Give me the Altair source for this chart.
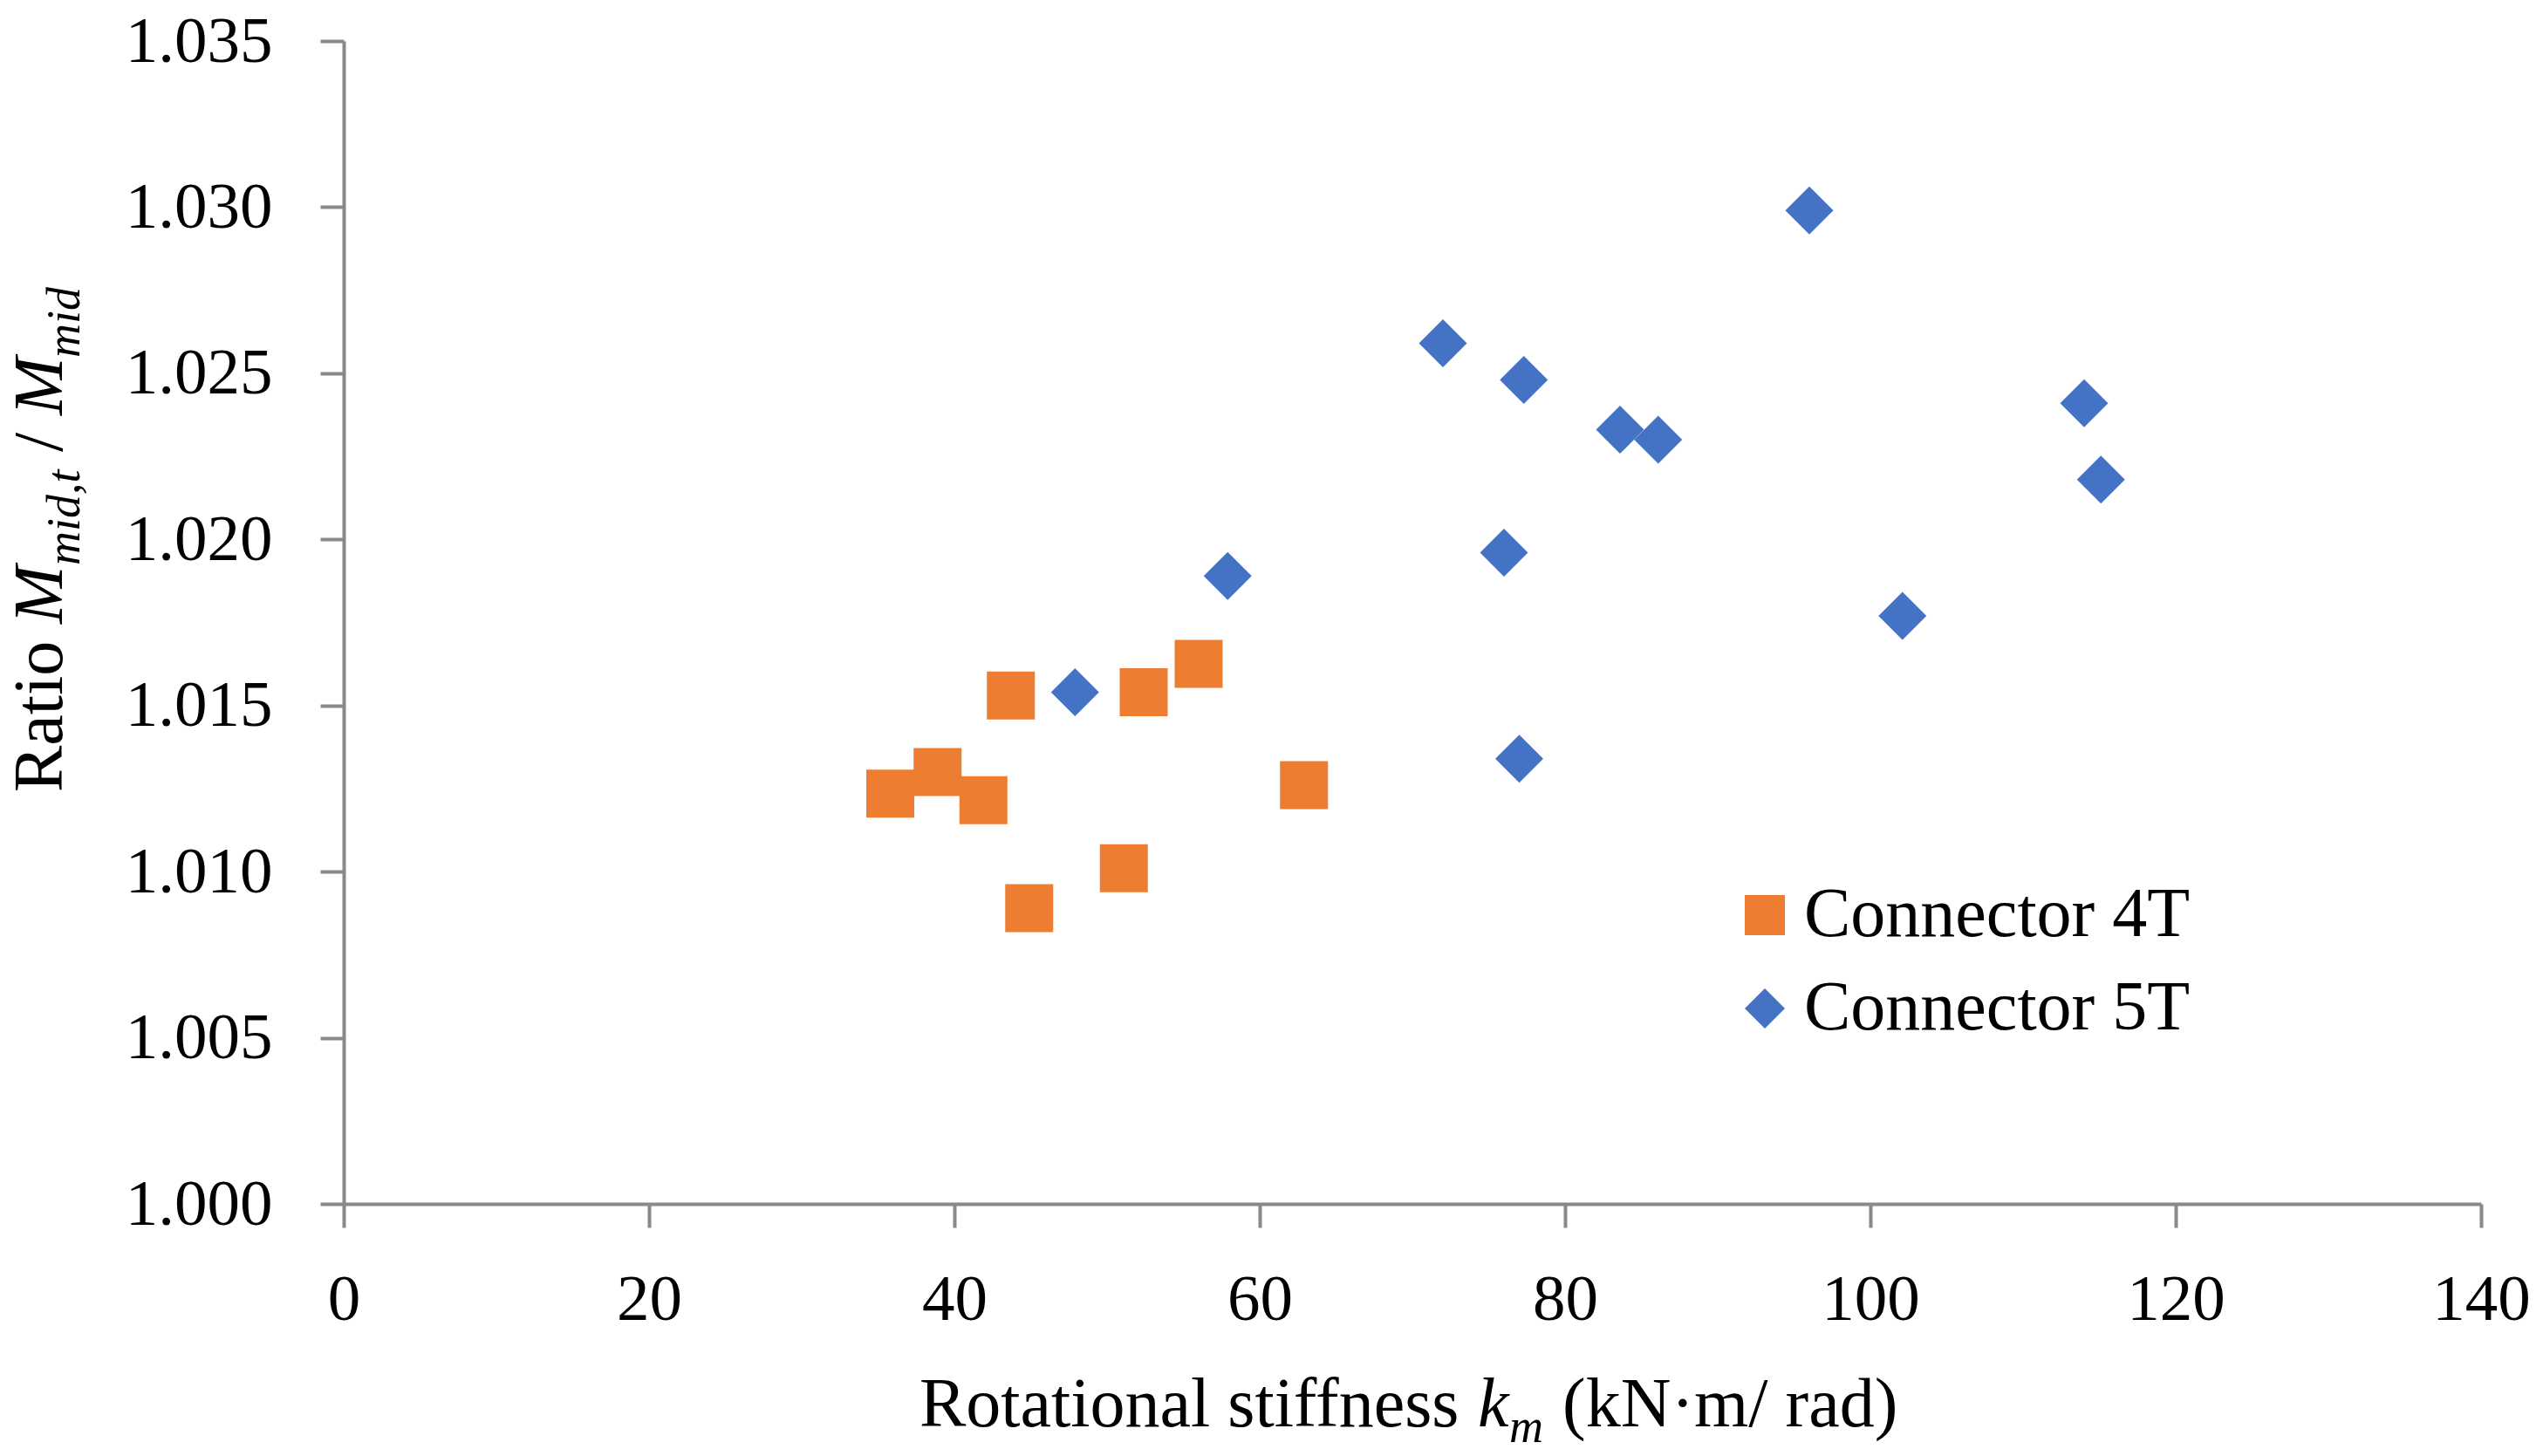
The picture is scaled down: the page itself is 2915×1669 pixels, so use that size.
import altair as alt
import pandas as pd

# ---- data ----
k4t = [35.8, 38.9, 41.9, 43.7, 44.9, 51.1, 52.4, 56.0, 62.9]
r4t = [1.01235, 1.0130, 1.01215, 1.0153, 1.0089, 1.0101, 1.0154, 1.01625, 1.0126]

k5t = [47.9, 57.9, 72.0, 76.0, 77.3, 77.0, 83.6, 86.1, 96.0, 102.1, 114.0, 115.1]
r5t = [1.0154, 1.0189, 1.0259, 1.0196, 1.0248, 1.0134, 1.0233, 1.0230, 1.0299, 1.0177, 1.0241, 1.0218]

series_names = ["Connector 4T", "Connector 5T"]
series_colors = ["#ED7D31", "#4472C4"]
series_shapes = ["square", "diamond"]

x_ticks = [0, 20, 40, 60, 80, 100, 120, 140]
y_ticks = [1.000, 1.005, 1.010, 1.015, 1.020, 1.025, 1.030, 1.035]

df = pd.DataFrame({
    "k": k4t + k5t,
    "ratio": r4t + r5t,
    "series": [series_names[0]] * len(k4t) + [series_names[1]] * len(k5t),
})

FONT = "Liberation Serif"
GRAY = "#898989"
W, H = 2450, 1333

leg = dict(orient="none", legendX=1589, legendY=962, title=None,
           symbolSize=2116, labelFont=FONT, labelFontSize=80,
           labelColor="black", labelOffset=5, rowPadding=27,
           padding=0, symbolStrokeWidth=0, symbolOpacity=1, labelLimit=0)

points = alt.Chart(df).mark_point(filled=True, opacity=1, size=3025, strokeWidth=0).encode(
    x=alt.X("k:Q", scale=alt.Scale(domain=[0, 140], nice=False, zero=False),
            axis=alt.Axis(values=x_ticks, title=None, grid=False, labelFlush=False,
                          labelFont=FONT, labelFontSize=75, labelColor="black",
                          labelBaseline="alphabetic", labelPadding=105,
                          tickSize=27, tickWidth=4, tickColor=GRAY,
                          domainColor=GRAY, domainWidth=4)),
    y=alt.Y("ratio:Q", scale=alt.Scale(domain=[1.0, 1.035], nice=False, zero=False),
            axis=alt.Axis(values=y_ticks, format=".3f", title=None, grid=False,
                          labelFlush=False,
                          labelFont=FONT, labelFontSize=75, labelColor="black",
                          labelPadding=55,
                          tickSize=27, tickWidth=4, tickColor=GRAY,
                          domainColor=GRAY, domainWidth=4)),
    color=alt.Color("series:N", scale=alt.Scale(domain=series_names, range=series_colors),
                    legend=alt.Legend(**leg)),
    shape=alt.Shape("series:N", scale=alt.Scale(domain=series_names, range=series_shapes),
                    legend=alt.Legend(**leg)),
)


def piece(txt, x, y, size=80, italic=False, angle=0):
    kw = dict(align="left", baseline="alphabetic", font=FONT, fontSize=size,
              color="black", angle=angle)
    if italic:
        kw["fontStyle"] = "italic"
    return alt.Chart(pd.DataFrame({"label": [txt]})).mark_text(**kw).encode(
        text="label:N", x=alt.value(x), y=alt.value(y))


# x axis title: Rotational stiffness k_m (kN·m/ rad)
XT_Y = 1588
x_title = [
    piece("Rotational stiffness", 660, XT_Y),
    piece("k", 1300, XT_Y, italic=True),
    piece("m", 1336, XT_Y + 18, size=54, italic=True),
    piece("(kN·m/ rad)", 1397, XT_Y),
]

# y axis title: Ratio M_mid,t / M_mid (rotated, reading upward)
YB = -323
YS = -303
y_title = [
    piece("Ratio", YB, 861, angle=270),
    piece("M", YB, 668, italic=True, angle=270),
    piece("mid,t", YS, 601, size=54, italic=True, angle=270),
    piece("/", YB, 471, angle=270),
    piece("M", YB, 429, italic=True, angle=270),
    piece("mid", YS, 363, size=54, italic=True, angle=270),
]

chart = alt.layer(points, *x_title, *y_title).properties(
    width=W, height=H,
    autosize=alt.AutoSizeParams(type="none"),
    padding={"left": 386, "top": 39, "right": 60, "bottom": 280},
).configure_view(stroke=None)

chart.save("out.html", embed_options={"renderer": "svg", "actions": False})
